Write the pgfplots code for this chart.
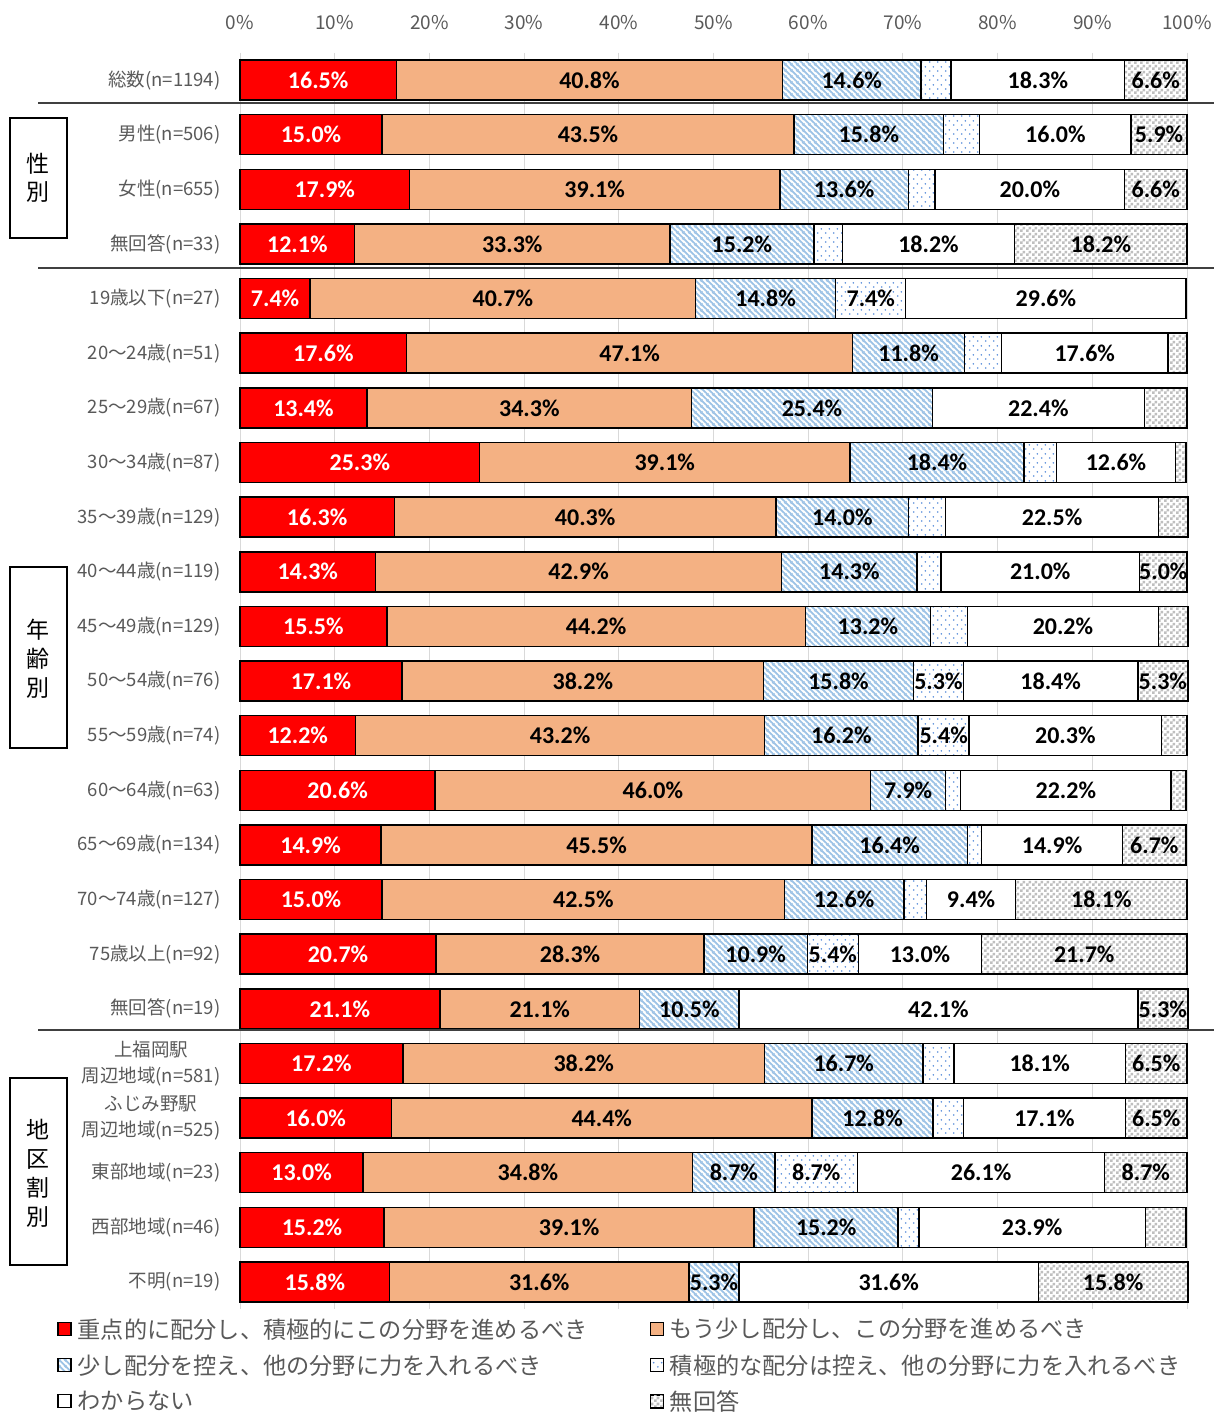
\documentclass[border=0pt]{standalone}
\usepackage{fontspec}
\setmainfont{Noto Sans CJK JP}
\newfontfamily\carlito{Carlito}
\usepackage{pgfplots}
\pgfplotsset{compat=1.18}
\usepackage{pgfplotstable}
\usetikzlibrary{patterns}

\definecolor{cRed}{HTML}{FF0000}
\definecolor{cSalmon}{HTML}{F4B183}
\definecolor{cStripe}{HTML}{9DC3E6}
\definecolor{cDot}{HTML}{5B8FDB}
\definecolor{cCheck}{HTML}{BFBFBF}
\definecolor{txtgray}{HTML}{595959}
\definecolor{gridgray}{HTML}{D9D9D9}
\definecolor{sepgray}{HTML}{404040}

\pgfdeclarepatternformonly{mystripes}{\pgfqpoint{0pt}{0pt}}{\pgfqpoint{6pt}{6pt}}{\pgfqpoint{6pt}{6pt}}{%
  \pgfsetlinewidth{1.9pt}%
  \pgfpathmoveto{\pgfqpoint{-1pt}{7pt}}\pgfpathlineto{\pgfqpoint{7pt}{-1pt}}%
  \pgfpathmoveto{\pgfqpoint{-1pt}{1pt}}\pgfpathlineto{\pgfqpoint{1pt}{-1pt}}%
  \pgfpathmoveto{\pgfqpoint{5pt}{7pt}}\pgfpathlineto{\pgfqpoint{7pt}{5pt}}%
  \pgfusepath{stroke}}
\pgfdeclarepatternformonly{mydots}{\pgfqpoint{0pt}{0pt}}{\pgfqpoint{8pt}{9pt}}{\pgfqpoint{8pt}{9pt}}{%
  \pgfpathcircle{\pgfqpoint{2pt}{2.25pt}}{1pt}%
  \pgfpathcircle{\pgfqpoint{6pt}{6.75pt}}{1pt}%
  \pgfusepath{fill}}
\pgfdeclarepatternformonly{mychecker}{\pgfqpoint{0pt}{0pt}}{\pgfqpoint{6pt}{6pt}}{\pgfqpoint{6pt}{6pt}}{%
  \pgfpathrectangle{\pgfqpoint{0pt}{0pt}}{\pgfqpoint{3pt}{3pt}}%
  \pgfpathrectangle{\pgfqpoint{3pt}{3pt}}{\pgfqpoint{3pt}{3pt}}%
  \pgfusepath{fill}}

\pgfplotstableread{
y a b c d e f
1 16.5 40.8 14.6 3.2 18.3 6.6
2 15.0 43.5 15.8 3.8 16.0 5.9
3 17.9 39.1 13.6 2.8 20.0 6.6
4 12.1 33.3 15.2 3.0 18.2 18.2
5 7.4 40.7 14.8 7.4 29.6 0
6 17.6 47.1 11.8 3.9 17.6 2.0
7 13.4 34.3 25.4 0 22.4 4.5
8 25.3 39.1 18.4 3.4 12.6 1.1
9 16.3 40.3 14.0 3.9 22.5 3.1
10 14.3 42.9 14.3 2.5 21.0 5.0
11 15.5 44.2 13.2 3.9 20.2 3.1
12 17.1 38.2 15.8 5.3 18.4 5.3
13 12.2 43.2 16.2 5.4 20.3 2.7
14 20.6 46.0 7.9 1.6 22.2 1.6
15 14.9 45.5 16.4 1.5 14.9 6.7
16 15.0 42.5 12.6 2.4 9.4 18.1
17 20.7 28.3 10.9 5.4 13.0 21.7
18 21.1 21.1 10.5 0 42.1 5.3
19 17.2 38.2 16.7 3.3 18.1 6.5
20 16.0 44.4 12.8 3.2 17.1 6.5
21 13.0 34.8 8.7 8.7 26.1 8.7
22 15.2 39.1 15.2 2.2 23.9 4.3
23 15.8 31.6 5.3 0 31.6 15.8
}\datatable

\newcommand{\seglabel}{\pgfmathtruncatemacro\lblshow{\pgfplotspointmeta>4.94}\ifnum\lblshow=1 \pgfmathprintnumber[fixed,fixed zerofill,precision=1,assume math mode=true]{\pgfplotspointmeta}\%\fi}

\pgfplotsset{
  lg/.style={legend image code/.code={\draw[##1,line width=1.3pt] (0pt,-6.5pt) rectangle (13pt,6.5pt);}},
  geom/.style={scale only axis, width=947pt, height=1256.6pt, at={(240pt,-52.7pt)}, anchor=north west,
    xmin=0, xmax=100, ymin=0.5, ymax=23.5, y dir=reverse},
}

\begin{document}
\begin{tikzpicture}
\useasboundingbox (0pt,0pt) rectangle (1214pt,-1414pt);
\begin{axis}[geom,
  xbar stacked, bar width=40pt,
  axis line style={draw=none},
  major tick length=0pt,
  xtick={0,10,...,100},
  xticklabels={0\%,10\%,20\%,30\%,40\%,50\%,60\%,70\%,80\%,90\%,100\%},
  xticklabel pos=upper,
  xmajorgrids, major grid style={gridgray, line width=1pt},
  x tick label style={font=\fontsize{19}{19}\selectfont, text=txtgray, yshift=19pt},
  ytick={1,...,23},
  yticklabels={総数(n=1194),男性(n=506),女性(n=655),無回答(n=33),19歳以下(n=27),20〜24歳(n=51),25〜29歳(n=67),30〜34歳(n=87),35〜39歳(n=129),40〜44歳(n=119),45〜49歳(n=129),50〜54歳(n=76),55〜59歳(n=74),60〜64歳(n=63),65〜69歳(n=134),70〜74歳(n=127),75歳以上(n=92),無回答(n=19),{上福岡駅\\周辺地域(n=581)},{ふじみ野駅\\周辺地域(n=525)},東部地域(n=23),西部地域(n=46),不明(n=19)},
  y tick label style={font=\fontsize{18.5}{26}\selectfont, text=txtgray, align=center, xshift=-16pt},
  legend columns=2,
  legend cell align=left,
  legend style={at={(axis description cs:-0.193,-0.0055)}, anchor=north west, draw=none, fill=none,
    font=\fontsize{23.2}{28}\selectfont, text=txtgray, inner sep=0pt, row sep=11pt,
    /tikz/every odd column/.append style={column sep=4pt},
    /tikz/every even column/.append style={column sep=60pt}},
  clip=false,
]
\addplot[fill=cRed, draw=black, line width=1.5pt, lg] table[x=a, y=y] {\datatable};
\addlegendentry{重点的に配分し、積極的にこの分野を進めるべき}
\addplot[fill=cSalmon, draw=black, line width=1.5pt, lg] table[x=b, y=y] {\datatable};
\addlegendentry{もう少し配分し、この分野を進めるべき}
\addplot[preaction={fill=white}, pattern=mystripes, pattern color=cStripe, draw=black, line width=1.5pt, lg] table[x=c, y=y] {\datatable};
\addlegendentry{少し配分を控え、他の分野に力を入れるべき}
\addplot[preaction={fill=white}, pattern=mydots, pattern color=cDot, draw=black, line width=1.5pt, lg] table[x=d, y=y] {\datatable};
\addlegendentry{積極的な配分は控え、他の分野に力を入れるべき}
\addplot[fill=white, draw=black, line width=1.5pt, lg] table[x=e, y=y] {\datatable};
\addlegendentry{わからない}
\addplot[preaction={fill=white}, pattern=mychecker, pattern color=cCheck, draw=black, line width=1.5pt, lg] table[x=f, y=y] {\datatable};
\addlegendentry{無回答}
\end{axis}
\begin{axis}[geom, hide axis, clip=false, point meta=explicit symbolic,
  nodes near coords={\seglabel},
  nodes near coords style={anchor=center, font=\carlito\bfseries\fontsize{24}{24}\selectfont, inner sep=0pt}]
\addplot[draw=none, mark=none, nodes near coords style={text=white}] table[x expr=\thisrow{a}/2, y=y, meta=a] {\datatable};
\addplot[draw=none, mark=none, nodes near coords style={text=black}] table[x expr=\thisrow{a}+\thisrow{b}/2, y=y, meta=b] {\datatable};
\addplot[draw=none, mark=none, nodes near coords style={text=black}] table[x expr=\thisrow{a}+\thisrow{b}+\thisrow{c}/2, y=y, meta=c] {\datatable};
\addplot[draw=none, mark=none, nodes near coords style={text=black}] table[x expr=\thisrow{a}+\thisrow{b}+\thisrow{c}+\thisrow{d}/2, y=y, meta=d] {\datatable};
\addplot[draw=none, mark=none, nodes near coords style={text=black}] table[x expr=\thisrow{a}+\thisrow{b}+\thisrow{c}+\thisrow{d}+\thisrow{e}/2, y=y, meta=e] {\datatable};
\addplot[draw=none, mark=none, nodes near coords style={text=black}] table[x expr=\thisrow{a}+\thisrow{b}+\thisrow{c}+\thisrow{d}+\thisrow{e}+\thisrow{f}/2, y=y, meta=f] {\datatable};
\end{axis}
% separators
\draw[sepgray, line width=1.5pt] (38pt,-103pt) -- (1214pt,-103pt);
\draw[sepgray, line width=1.5pt] (38pt,-268pt) -- (1214pt,-268pt);
\draw[sepgray, line width=1.5pt] (38pt,-1030pt) -- (1214pt,-1030pt);
% group boxes
\draw[black, line width=1.5pt] (10pt,-118pt) rectangle (67pt,-238pt);
\node[align=center, font=\fontsize{23}{28.5}\selectfont, inner sep=0pt] at (38.5pt,-178pt) {性\\別};
\draw[black, line width=1.5pt] (10pt,-567pt) rectangle (67pt,-748pt);
\node[align=center, font=\fontsize{23}{29}\selectfont, inner sep=0pt] at (38.5pt,-659pt) {年\\齢\\別};
\draw[black, line width=1.5pt] (10pt,-1078pt) rectangle (67pt,-1265pt);
\node[align=center, font=\fontsize{23}{29}\selectfont, inner sep=0pt] at (38.5pt,-1173pt) {地\\区\\割\\別};
\end{tikzpicture}
\end{document}
